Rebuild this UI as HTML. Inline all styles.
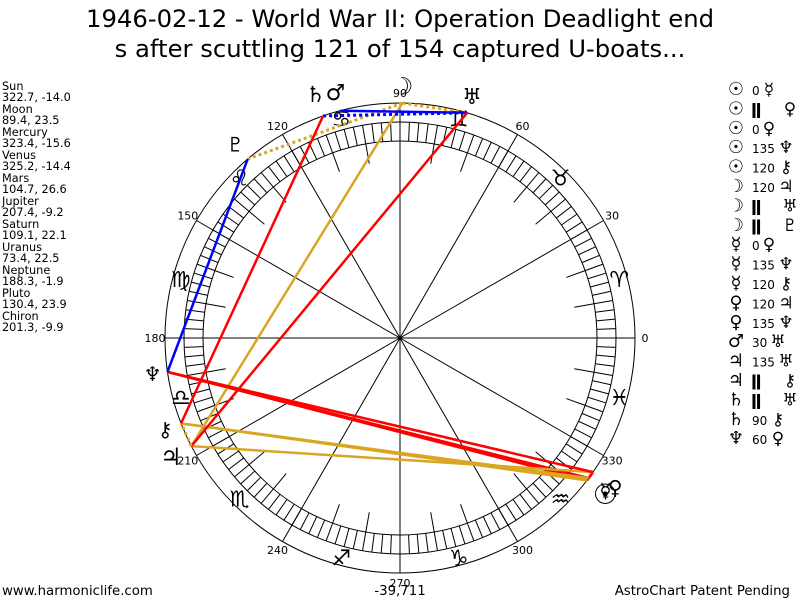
<!DOCTYPE html>
<html><head><meta charset="utf-8"><style>
html,body{margin:0;padding:0;background:#fff;width:800px;height:600px;overflow:hidden;font-family:"DejaVu Sans","Liberation Sans",sans-serif}
</style></head><body>
<svg id="s" width="800" height="600" xmlns="http://www.w3.org/2000/svg" font-family="DejaVu Sans, Liberation Sans, sans-serif">
<text x="400" y="27" font-size="24.3" text-anchor="middle">1946-02-12 - World War II: Operation Deadlight end</text>
<text x="400" y="57" font-size="24.3" text-anchor="middle">s after scuttling 121 of 154 captured U-boats...</text>
<g font-size="11.3" fill="#000">
<text x="2" y="90">Sun</text><text x="2" y="101">322.7, -14.0</text>
<text x="2" y="113">Moon</text><text x="2" y="124">89.4, 23.5</text>
<text x="2" y="136">Mercury</text><text x="2" y="147">323.4, -15.6</text>
<text x="2" y="159">Venus</text><text x="2" y="170">325.2, -14.4</text>
<text x="2" y="182">Mars</text><text x="2" y="193">104.7, 26.6</text>
<text x="2" y="205">Jupiter</text><text x="2" y="216">207.4, -9.2</text>
<text x="2" y="228">Saturn</text><text x="2" y="239">109.1, 22.1</text>
<text x="2" y="251">Uranus</text><text x="2" y="262">73.4, 22.5</text>
<text x="2" y="274">Neptune</text><text x="2" y="285">188.3, -1.9</text>
<text x="2" y="297">Pluto</text><text x="2" y="308">130.4, 23.9</text>
<text x="2" y="320">Chiron</text><text x="2" y="331">201.3, -9.9</text>
</g>
<g font-size="13.3">
<text x="2" y="595">www.harmoniclife.com</text>
<text x="400" y="595" text-anchor="middle">-39,711</text>
<text x="790" y="595" text-anchor="end">AstroChart Patent Pending</text>
</g>
<g id="g"></g>
</svg>
<script>
var cx=400,cy=338,R=235,RO=216,RI=197,ns="http://www.w3.org/2000/svg",g=document.getElementById('g');
function el(t,a,txt){var e=document.createElementNS(ns,t);for(var k in a)e.setAttribute(k,a[k]);if(txt!==undefined)e.textContent=txt;g.appendChild(e);return e;}
function P(a,r){var t=a*Math.PI/180;return [cx+r*Math.cos(t),cy-r*Math.sin(t)];}
el('circle',{cx:cx,cy:cy,r:R,fill:'none',stroke:'#000','stroke-width':1});
el('circle',{cx:cx,cy:cy,r:RO,fill:'none',stroke:'#000','stroke-width':1});
el('circle',{cx:cx,cy:cy,r:RI,fill:'none',stroke:'#000','stroke-width':1});
for(var a=0;a<360;a+=2.5){var p=P(a,RI),q=P(a,RO);el('line',{x1:p[0],y1:p[1],x2:q[0],y2:q[1],stroke:'#000','stroke-width':1});}
for(var a=0;a<360;a+=10){if(a%30==0){var q=P(a,R);el('line',{x1:cx,y1:cy,x2:q[0],y2:q[1],stroke:'#000','stroke-width':1});}else{var p=P(a,177),q=P(a,RI);el('line',{x1:p[0],y1:p[1],x2:q[0],y2:q[1],stroke:'#000','stroke-width':1});}}
el('circle',{cx:cx,cy:cy,r:2,fill:'#000'});
for(var a=0;a<360;a+=30){var p=P(a,245);el('text',{x:p[0],y:p[1]+4,'font-size':11,'text-anchor':'middle'},String(a));}
var signs=['♈','♉','♊','♋','♌','♍','♎','♏','♐','♑','♒','♓'];
for(var i=0;i<12;i++){var p=P(15+30*i,227);el('text',{x:p[0],y:p[1]+8,'font-size':22,'text-anchor':'middle'},signs[i]+'\uFE0E');}
var pl={Su:322.7,Mo:89.4,Me:323.4,Ve:325.2,Ma:104.7,Ju:207.4,Sa:109.1,Ur:73.4,Ne:188.3,Pl:130.4,Ch:201.3};
var asp=[['Su','Me','#f00',0],['Su','Ve','#daa520',1],['Su','Ve','#f00',0],['Su','Ne','#f00',0],['Su','Ch','#daa520',0],['Mo','Ju','#daa520',0],['Mo','Ur','#daa520',1],['Mo','Pl','#daa520',1],['Me','Ve','#f00',0],['Me','Ne','#f00',0],['Me','Ch','#daa520',0],['Ve','Ju','#daa520',0],['Ve','Ne','#f00',0],['Ma','Ur','#00f',0],['Ju','Ur','#f00',0],['Ju','Ch','#daa520',1],['Sa','Ur','#00f',1],['Sa','Ch','#f00',0],['Ne','Pl','#00f',0]];
asp.forEach(function(s){var p=P(pl[s[0]],R),q=P(pl[s[1]],R);var a={x1:p[0],y1:p[1],x2:q[0],y2:q[1],stroke:s[2],'stroke-width':s[3]?3:2.5};if(s[3])a['stroke-dasharray']='3,3';el('line',a);});
var gl=[['☉',322.7,258,28],['☿',323.4,256,20],['♀',325.2,262,20],['☽',89.4,252,24],['♂',104.7,254,22],['♃',207.4,258,24],['♄',109.1,258,22],['♅',73.4,252,22],['♆',188.3,250,20],['♇',130.4,254,20],['⚷',201.3,252,20]];
gl.forEach(function(s){var p=P(s[1],s[2]);el('text',{x:p[0],y:p[1]+s[3]*0.35,'font-size':s[3],'text-anchor':'middle','font-weight':'bold'},s[0]+'\uFE0E');});
var rows=[['☉','0','☿'],['☉','II','♀'],['☉','0','♀'],['☉','135','♆'],['☉','120','⚷'],['☽','120','♃'],['☽','II','♅'],['☽','II','♇'],['☿','0','♀'],['☿','135','♆'],['☿','120','⚷'],['♀','120','♃'],['♀','135','♆'],['♂','30','♅'],['♃','135','♅'],['♃','II','⚷'],['♄','II','♅'],['♄','90','⚷'],['♆','60','♀']];
rows.forEach(function(r,i){var y=95+i*19.4;el('text',{x:736,y:y,'font-size':18,'text-anchor':'middle','font-weight':'bold'},r[0]+'\uFE0E');
var isP=r[1]=='II';
el('text',{x:isP?751:752,y:y,'font-size':isP?16:12,'font-weight':isP?'bold':'normal'},isP?'ǁ':r[1]);
var gx=isP?790:(r[1].length==3?786:(r[1].length==2?778:769));
el('text',{x:gx,y:y,'font-size':17,'text-anchor':'middle'},r[2]+'\uFE0E');});
</script>
</body></html>
